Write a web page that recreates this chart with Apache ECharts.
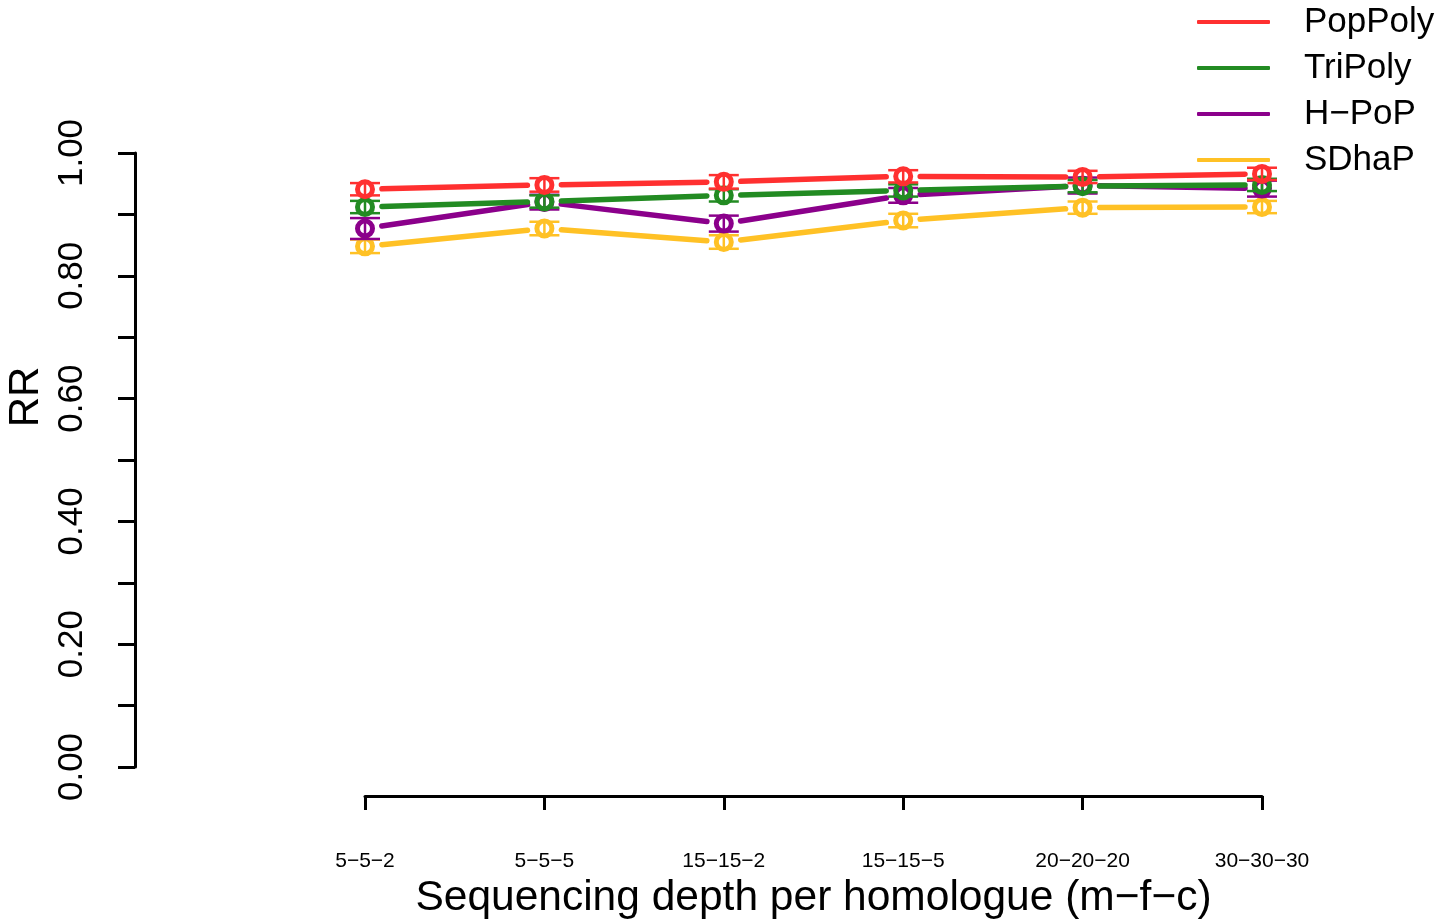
<!DOCTYPE html>
<html>
<head>
<meta charset="utf-8">
<script src="https://cdn.jsdelivr.net/npm/echarts@6/dist/echarts.min.js"></script>
<style>
html,body{margin:0;padding:0;background:#fff;}
#chart{width:1446px;height:923px;}
</style>
</head>
<body>
<div id="chart"></div>
<script>
// ---- data ----
const categories = ['5\u22125\u22122', '5\u22125\u22125', '15\u221215\u22122', '15\u221215\u22125', '20\u221220\u221220', '30\u221230\u221230'];
const seriesNames = ['PopPoly', 'TriPoly', 'H\u2212PoP', 'SDhaP'];
const popPoly = [0.941, 0.948, 0.953, 0.962, 0.961, 0.966];
const triPoly = [0.912, 0.921, 0.931, 0.939, 0.946, 0.948];
const hPoP    = [0.877, 0.920, 0.885, 0.931, 0.947, 0.942];
const sdhaP   = [0.848, 0.877, 0.855, 0.890, 0.911, 0.912];
const popPolyErr = [0.010, 0.011, 0.011, 0.010, 0.010, 0.010];
const triPolyErr = [0.010, 0.010, 0.010, 0.010, 0.010, 0.010];
const hPoPErr    = [0.017, 0.012, 0.013, 0.012, 0.013, 0.013];
const sdhaPErr   = [0.011, 0.011, 0.011, 0.011, 0.010, 0.010];
const yTicks = [0, 0.2, 0.4, 0.6, 0.8, 1.0];
const colors = ['#FF3030', '#228B22', '#8B008B', '#FFC125'];

const allVals = [popPoly, triPoly, hPoP, sdhaP];
const allErr = [popPolyErr, triPolyErr, hPoPErr, sdhaPErr];

function makeRender(color, vals) {
  return function (params, api) {
    const i = api.value(0), v = api.value(1), e = api.value(2);
    const p = api.coord([i, v]);
    const lo = api.coord([i, v - e]);
    const hi = api.coord([i, v + e]);
    const children = [];
    if (i < vals.length - 1) {
      const q = api.coord([i + 1, vals[i + 1]]);
      const dx = q[0] - p[0], dy = q[1] - p[1];
      const len = Math.sqrt(dx * dx + dy * dy);
      const ux = dx / len, uy = dy / len, gap = 17;
      children.push({
        type: 'line',
        shape: { x1: p[0] + ux * gap, y1: p[1] + uy * gap, x2: q[0] - ux * gap, y2: q[1] - uy * gap },
        style: { stroke: color, lineWidth: 5.5, lineCap: 'round' }
      });
    }
    children.push({ type: 'line', shape: { x1: lo[0], y1: lo[1], x2: hi[0], y2: hi[1] }, style: { stroke: color, lineWidth: 2.5 } });
    children.push({ type: 'line', shape: { x1: lo[0] - 15, y1: lo[1], x2: lo[0] + 15, y2: lo[1] }, style: { stroke: color, lineWidth: 2.5 } });
    children.push({ type: 'line', shape: { x1: hi[0] - 15, y1: hi[1], x2: hi[0] + 15, y2: hi[1] }, style: { stroke: color, lineWidth: 2.5 } });
    children.push({ type: 'circle', shape: { cx: p[0], cy: p[1], r: 7.5 }, style: { fill: 'none', stroke: color, lineWidth: 5 } });
    return { type: 'group', children: children };
  };
}

const series = seriesNames.map(function (name, k) {
  return {
    name: name,
    type: 'custom',
    z: 10 - k,
    itemStyle: { color: colors[k] },
    renderItem: makeRender(colors[k], allVals[k]),
    encode: { x: 0, y: 1 },
    data: allVals[k].map(function (v, i) { return [i, v, allErr[k][i]]; })
  };
});

const font = 'Liberation Sans, Arial, Helvetica, sans-serif';
const chart = echarts.init(document.getElementById('chart'));
chart.setOption({
  animation: false,
  textStyle: { fontFamily: font },
  grid: { left: 365, right: 184, top: 153, bottom: 156, containLabel: false, outerBoundsMode: 'none' },
  legend: {
    orient: 'vertical',
    left: 1197,
    top: 2,
    padding: 0,
    itemWidth: 73,
    itemHeight: 4,
    itemGap: 6,
    icon: 'roundRect',
    textStyle: { fontSize: 35, lineHeight: 40, color: '#000', fontFamily: font, padding: [0, 0, 0, 29] },
    data: seriesNames
  },
  xAxis: {
    type: 'category',
    data: categories,
    boundaryGap: false,
    offset: 29,
    axisLine: { onZero: false, lineStyle: { color: '#000', width: 3 } },
    axisTick: { length: 14, lineStyle: { color: '#000', width: 3 } },
    axisLabel: { fontSize: 21, color: '#000', margin: 55, fontFamily: font },
    name: 'Sequencing depth per homologue (m\u2212f\u2212c)',
    nameLocation: 'middle',
    nameGap: 80,
    nameTextStyle: { fontSize: 42.5, color: '#000', fontFamily: font }
  },
  yAxis: {
    type: 'value',
    min: 0,
    max: 1,
    interval: 0.1,
    offset: 230,
    splitLine: { show: false },
    axisLine: { show: true, onZero: false, lineStyle: { color: '#000', width: 3 } },
    axisTick: { show: true, length: 17, lineStyle: { color: '#000', width: 3 } },
    axisLabel: {
      fontSize: 35, color: '#000', rotate: 90, margin: 45, fontFamily: font,
      formatter: function (v) {
        for (let t of yTicks) { if (Math.abs(t - v) < 1e-6) return t.toFixed(2); }
        return '';
      }
    },
    name: 'RR',
    nameLocation: 'middle',
    nameRotate: 90,
    nameGap: 83,
    nameTextStyle: { fontSize: 42, color: '#000', fontFamily: font, padding: [0, 0, 0, 126] }
  },
  series: series
});
</script>
</body>
</html>
